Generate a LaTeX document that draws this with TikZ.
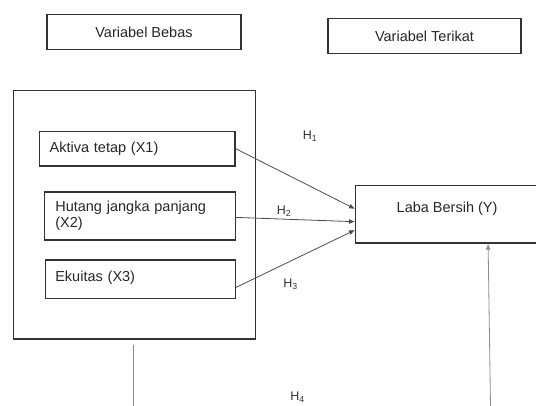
\documentclass[tikz,border=0pt]{standalone}
\usepackage{fontspec}
\setmainfont{Liberation Sans}
\usetikzlibrary{arrows.meta}
\begin{document}
\begin{tikzpicture}[x=1pt,y=-1pt,
  every node/.style={font=\fontsize{14.5}{16}\selectfont, text=black!85},
  boxA/.style={draw=black!80, line width=1.2pt, inner sep=0pt},
  varbox/.style={boxA, anchor=west, align=left},
  conn/.style={draw=black!70, line width=0.8pt, -{Latex[length=6pt,width=5pt]}},
  vline/.style={draw=black!45, line width=0.9pt},
  hlab/.style={font=\fontsize{12.5}{14}\selectfont, text=black!80}]
\useasboundingbox (0,0) rectangle (536,405);
% headers
\node[boxA, minimum width=194pt, minimum height=35pt] (bebas) at (144,32) {Variabel Bebas};
\node[boxA, minimum width=193pt, minimum height=35pt] (terikat) at (424.5,36.3) {Variabel Terikat};
% outer group
\node[boxA, minimum width=242pt, minimum height=248.4pt] (outer) at (134.7,214.8) {};
% variable boxes
\node[varbox, minimum width=185.4pt, minimum height=34.7pt, text width=175pt, inner xsep=10.4pt] (aktiva) at (38.6,148.6) {Aktiva tetap (X1)};
\node[varbox, minimum width=180.2pt, minimum height=48pt, text width=169pt, inner xsep=10.9pt] (hutang) at (43.8,216) {Hutang jangka panjang\\(X2)};
\node[varbox, minimum width=180.8pt, minimum height=38.5pt, text width=170pt, inner xsep=9.9pt, text depth=5pt] (ekuitas) at (44.8,279.2) {Ekuitas (X3)};
% dependent
\node[boxA, minimum width=183pt, minimum height=57.3pt, anchor=west,
  label={[anchor=center, font=\fontsize{14.5}{16}\selectfont, text=black!85]center:{\raisebox{14pt}{Laba Bersih (Y)}}}] (laba) at (355,214.4) {};
% connectors
\draw[conn] (aktiva.east) -- ([yshift=5.5pt]laba.west);
\draw[conn] ([yshift=-1.4pt]hutang.east) -- ([yshift=-7.3pt]laba.west);
\draw[conn] ([yshift=-8.3pt]ekuitas.east) -- ([yshift=-15.6pt]laba.west);
\coordinate (bot) at (490.5,406);
\draw[conn, draw=black!45] (bot) -- ([xshift=41pt]laba.south);
\coordinate (lbot) at (133.3,406);
\draw[vline] ([xshift=-1.4pt,yshift=-5.7pt]outer.south) -- (lbot);
% labels
\node[hlab] (h1) at (310,136.5) {H\textsubscript{1}};
\node[hlab] (h2) at (284,211.5) {H\textsubscript{2}};
\node[hlab] (h3) at (290.5,284) {H\textsubscript{3}};
\node[hlab] (h4) at (297.5,397.5) {H\textsubscript{4}};
\end{tikzpicture}
\end{document}
